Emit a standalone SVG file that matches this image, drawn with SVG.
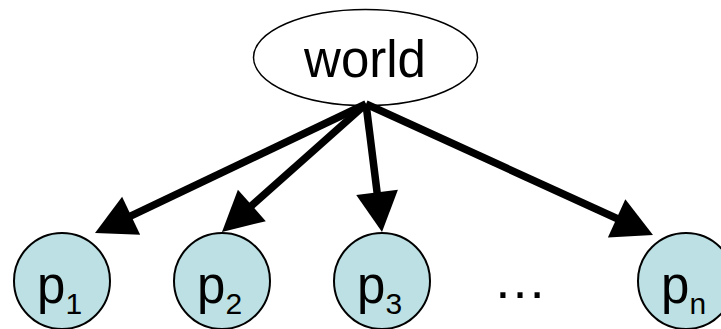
<svg xmlns="http://www.w3.org/2000/svg" width="721" height="329" viewBox="0 0 721 329">
  <style>
    .lbl { font-family: "Liberation Sans", Arial, sans-serif; fill: #000; }
    .proc { fill: #bce0e3; stroke: #000; stroke-width: 2; }
    .edge { stroke: #000; stroke-width: 7.5; fill: none; marker-end: url(#head); }
  </style>
  <defs>
    <marker id="head" markerUnits="userSpaceOnUse" viewBox="-10 -21 42 42" markerWidth="42" markerHeight="42" refX="0" refY="0" orient="auto" overflow="visible">
      <path d="M-10,-21 L30,0 L-10,21 z" fill="#000"/>
    </marker>
  </defs>

  <g id="world">
    <ellipse cx="365.5" cy="57.5" rx="112" ry="48" fill="#fff" stroke="#000" stroke-width="1.5"/>
    <text class="lbl" x="365" y="77" font-size="51" text-anchor="middle">world</text>
  </g>

  <g id="connectors">
    <line class="edge" x1="366" y1="104" x2="122.1" y2="220.1"/>
    <line class="edge" x1="366" y1="104" x2="244.4" y2="212.1"/>
    <line class="edge" x1="366" y1="104" x2="378.3" y2="202.2"/>
    <line class="edge" x1="366" y1="104" x2="625.7" y2="222.5"/>
  </g>

  <g id="p1">
    <circle class="proc" cx="62" cy="281" r="48"/>
    <text class="lbl" x="37" y="303" font-size="51">p<tspan font-size="30" y="314">1</tspan></text>
  </g>
  <g id="p2">
    <circle class="proc" cx="222" cy="281" r="48"/>
    <text class="lbl" x="197" y="303" font-size="51">p<tspan font-size="30" y="314">2</tspan></text>
  </g>
  <g id="p3">
    <circle class="proc" cx="382" cy="281" r="48"/>
    <text class="lbl" x="357" y="303" font-size="51">p<tspan font-size="30" y="314">3</tspan></text>
  </g>
  <g id="dots">
    <text class="lbl" x="520" y="298" font-size="54" text-anchor="middle">…</text>
  </g>
  <g id="pn">
    <circle class="proc" cx="686" cy="281" r="48"/>
    <text class="lbl" x="661" y="303" font-size="51">p<tspan font-size="30" y="314">n</tspan></text>
  </g>
</svg>
